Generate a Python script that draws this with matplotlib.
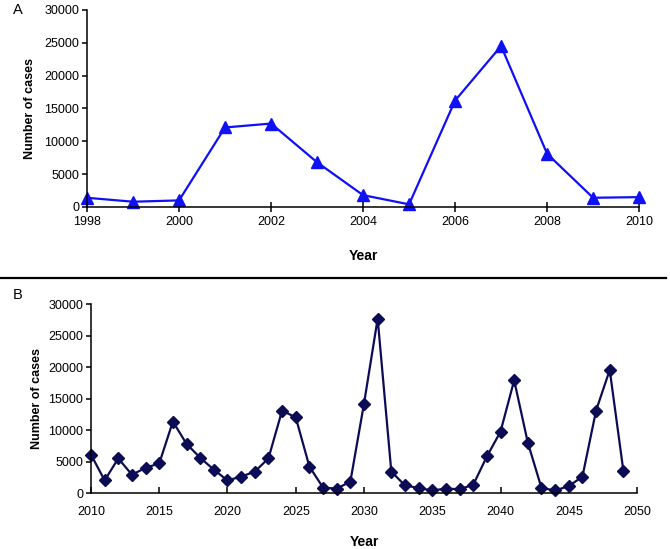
import matplotlib
matplotlib.use("Agg")
import matplotlib.pyplot as plt
from matplotlib.lines import Line2D

plt.rcParams['font.family'] = ['Liberation Sans', 'DejaVu Sans']

# panel A: observed cases
years_a = list(range(1998, 2011))
cases_a = [1400, 800, 1000, 12100, 12700, 6800, 1800, 400, 16200, 24500, 8100, 1400, 1500]

# panel B: projected cases
years_b = list(range(2010, 2050))
cases_b = [6100, 2000, 5500, 2900, 4000, 4700, 11350, 7800, 5600, 3700,
           2000, 2600, 3400, 5500, 13100, 12000, 4200, 850, 700, 1800,
           14200, 27700, 3400, 1200, 800, 400, 700, 600, 1300, 5800,
           9750, 17900, 8000, 800, 400, 1100, 2600, 13100, 19550, 3500]

yticks = [0, 5000, 10000, 15000, 20000, 25000, 30000]


def style_axes(axe):
    axe.spines['top'].set_visible(False)
    axe.spines['right'].set_visible(False)
    axe.spines['left'].set_linewidth(1.1)
    axe.spines['bottom'].set_linewidth(1.1)
    axe.set_ylim(0, 30000)
    axe.set_yticks(yticks)
    axe.tick_params(axis='y', direction='out', length=3.5, width=1.1, labelsize=9, pad=2)
    axe.tick_params(axis='x', width=1.1, labelsize=9)
    axe.set_ylabel('Number of cases', fontsize=9, fontweight='bold')
    axe.set_xlabel('Year', fontsize=10, fontweight='bold')


fig = plt.figure(figsize=(6.7, 5.49), dpi=100)

ax1 = fig.add_axes([0.1299, 0.623, 0.824, 0.359])
ax1.plot(years_a, cases_a, color='#1010f5', linewidth=1.6, marker='^', markersize=8, clip_on=False)
ax1.set_xlim(1998, 2010)
ax1.set_xticks(range(1998, 2011, 2))
style_axes(ax1)
ax1.tick_params(axis='x', direction='inout', length=7, pad=3)
ax1.yaxis.set_label_coords(-0.092, 0.5)
ax1.xaxis.set_label_coords(0.5, -0.215)

ax2 = fig.add_axes([0.1358, 0.102, 0.815, 0.344])
ax2.plot(years_b, cases_b, color='#0c0c55', linewidth=1.6, marker='D', markersize=6.5, clip_on=False)
ax2.set_xlim(2010, 2050)
ax2.set_xticks(range(2010, 2051, 5))
style_axes(ax2)
ax2.tick_params(axis='x', direction='in', length=4, pad=9)
ax2.yaxis.set_label_coords(-0.088, 0.5)
ax2.xaxis.set_label_coords(0.5, -0.22)

fig.text(0.019, 0.982, 'A', fontsize=10.5, va='center', ha='left')
fig.text(0.019, 0.463, 'B', fontsize=10.5, va='center', ha='left')
fig.add_artist(Line2D([0.0, 0.994], [1 - 278 / 549, 1 - 278 / 549], color='black', linewidth=1.6))

fig.savefig('out.png', dpi=100)
